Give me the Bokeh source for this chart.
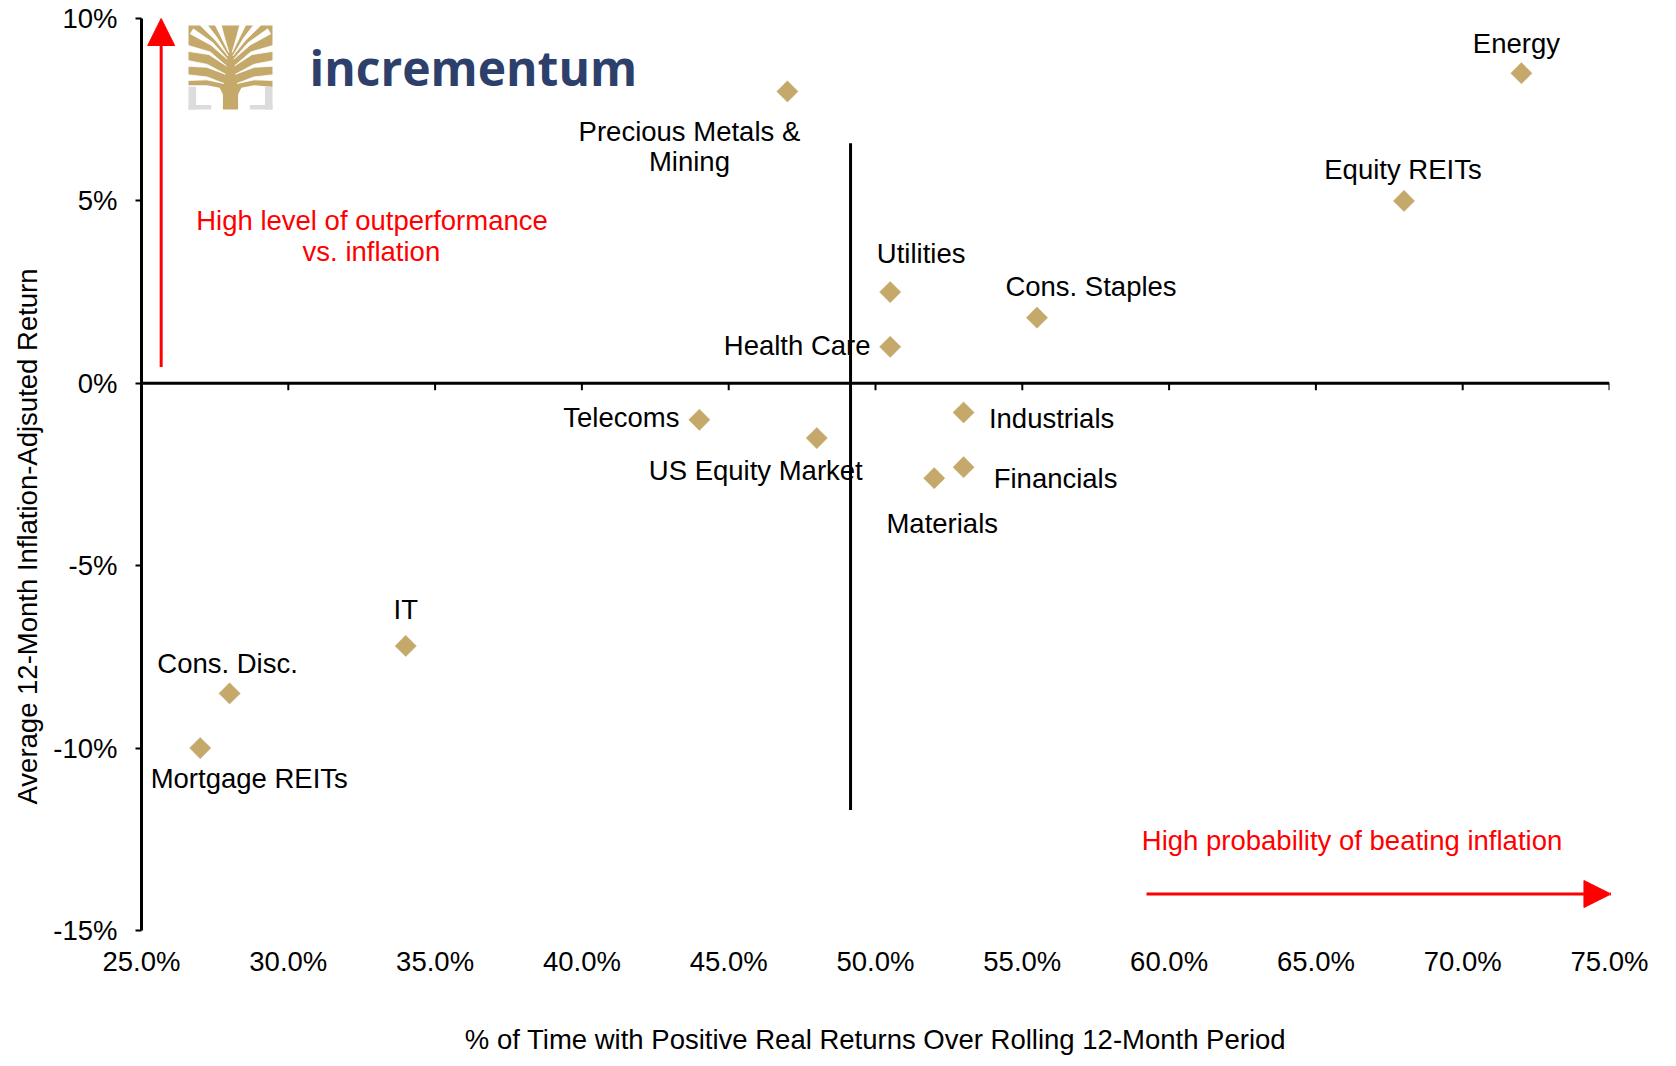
from math import pi, hypot
from bokeh.plotting import figure
from bokeh.models import (Span, Label, Arrow, NormalHead, FixedTicker, Title,
                          PrintfTickFormatter, ColumnDataSource)
from bokeh.core.properties import value
from bokeh.embed import file_html
from bokeh.resources import INLINE

# ---------------- data ----------------
sectors = ["Energy", "Equity REITs", "Precious Metals &\nMining", "Utilities",
           "Health Care", "Cons. Staples", "Industrials", "Financials",
           "Materials", "US Equity Market", "Telecoms", "IT", "Cons. Disc.",
           "Mortgage REITs"]
pct_positive = [72.0, 68.0, 47.0, 50.5, 50.5, 55.5, 53.0, 53.0, 52.0, 48.0,
                44.0, 34.0, 28.0, 27.0]
avg_real_return = [8.5, 5.0, 8.0, 2.5, 1.0, 1.8, -0.8, -2.3, -2.6, -1.5,
                   -1.0, -7.2, -8.5, -10.0]
x_ticks = [25, 30, 35, 40, 45, 50, 55, 60, 65, 70, 75]
y_ticks = [-15, -10, -5, 0, 5, 10]
x_title = "% of Time with Positive Real Returns Over Rolling 12-Month Period"
y_title = "Average 12-Month Inflation-Adjsuted Return"

# label placement (screen px offsets from each point)
label_dx = [-5, -1, -98, 31, -93, 54, 88, 92, 8, -61, -78, 0, -2, 49]
label_dy = [-30, -31, 55, -39, -1, -31, 6, 11, 45, 32, -2, -36, -30, 30]

FONT = "Liberation Sans"
FS = "27.5px"
GOLD = "#C4A96B"
NAVY = "#2D406B"

p = figure(width=1668, height=1062, x_range=(25, 75), y_range=(-15, 10),
           output_backend="svg", toolbar_location=None,
           min_border_left=141, min_border_right=59, min_border_top=18,
           min_border_bottom=132)
p.outline_line_color = None
p.xgrid.grid_line_color = None
p.ygrid.grid_line_color = None
p.background_fill_color = "white"
p.border_fill_color = "white"

# x axis: labels only at bottom
xa = p.xaxis[0]
xa.ticker = FixedTicker(ticks=x_ticks)
xa.formatter = PrintfTickFormatter(format="%.1f%%")
xa.axis_line_color = None
xa.major_tick_line_color = None
xa.minor_tick_line_color = None
xa.major_label_standoff = 9
xa.major_label_text_font = FONT
xa.major_label_text_font_size = FS
xa.major_label_text_color = "black"
xa.axis_label = x_title
xa.axis_label_text_font = FONT
xa.axis_label_text_font_size = FS
xa.axis_label_text_font_style = "normal"
xa.axis_label_text_color = "black"
xa.axis_label_standoff = 44

ya = p.yaxis[0]
ya.ticker = FixedTicker(ticks=y_ticks)
ya.formatter = PrintfTickFormatter(format="%d%%")
ya.axis_line_width = 3
ya.axis_line_color = "black"
ya.major_tick_line_width = 2
ya.major_tick_out = 6
ya.major_tick_in = 0
ya.minor_tick_line_color = None
ya.major_label_standoff = 18
ya.major_label_text_font = FONT
ya.major_label_text_font_size = FS
ya.major_label_text_color = "black"

# y axis title, anchored from the bottom like the reference
p.add_layout(Title(text=y_title, align="left", offset=126, standoff=16,
                   text_font=FONT, text_font_size=FS, text_font_style="normal",
                   text_color="black"), "left")

# horizontal axis line at 0 with tick marks
p.add_layout(Span(location=0, dimension="width", line_color="black", line_width=3))
p.segment(x0=x_ticks[1:], y0=[0] * (len(x_ticks) - 1), x1=x_ticks[1:],
          y1=[-0.19] * (len(x_ticks) - 1), line_color="black", line_width=2)

# vertical divider
p.segment(x0=[49.15], y0=[-11.7], x1=[49.15], y1=[6.58], line_color="black", line_width=3)

# points
src = ColumnDataSource(dict(x=pct_positive, y=avg_real_return, name=sectors,
                            dx=label_dx, dy=label_dy))
p.scatter("x", "y", source=src, marker="square", size=15, angle=pi / 4,
          fill_color=GOLD, line_color=GOLD, line_width=0.5)
p.text("x", "y", text="name", source=src, x_offset="dx", y_offset="dy",
       text_font=value(FONT), text_font_size=value(FS), text_color="black",
       text_align="center", text_baseline="middle", text_line_height=0.97)

# red arrows
p.add_layout(Arrow(end=NormalHead(size=27, fill_color="#FF0000", line_color="#FF0000"),
                   x_start=25.67, y_start=0.45, x_end=25.67, y_end=10.0,
                   line_color="#FF0000", line_width=3))
p.add_layout(Arrow(end=NormalHead(size=27, fill_color="#FF0000", line_color="#FF0000"),
                   x_start=59.23, y_start=-14.0, x_end=75.05, y_end=-14.0,
                   line_color="#FF0000", line_width=3))

for txt, x, y in [("High level of outperformance", 32.85, 4.46),
                  ("vs. inflation", 32.83, 3.62),
                  ("High probability of beating inflation", 66.23, -12.53)]:
    p.add_layout(Label(x=x, y=y, text=txt, text_color="#FF0000", text_font=FONT,
                       text_font_size=FS, text_align="center", text_baseline="middle"))

# ---------------- logo ----------------
def lx(u):
    return 25 + (188 + 84 * u - 141) / 29.36

def ly(v):
    return (382.8 - (109 - 84 * v)) / 36.48

GREY = "#DCDCDE"
for (u0, v0, u1, v1) in [(0, 0, 0.09, 0.27), (0, 0, 0.27, 0.055),
                         (0.91, 0, 1, 0.27), (0.73, 0, 1, 0.055)]:
    p.quad(left=[lx(u0)], right=[lx(u1)], bottom=[ly(v0)], top=[ly(v1)],
           fill_color=GREY, line_color=None)

crown = [(0.41, 0.0), (0.41, 0.18), (0.37, 0.26), (0.22, 0.29), (0.0, 0.29),
         (0.0, 1.0), (1.0, 1.0), (1.0, 0.27), (0.78, 0.29), (0.63, 0.26),
         (0.59, 0.18), (0.59, 0.0)]
p.patch([lx(u) for u, v in crown], [ly(v) for u, v in crown],
        fill_color=GOLD, line_color=None)

# white tapered gaps between branches (local logo units)
left_gaps = [
    [(0.42, 0.31), (0.22, 0.37), (-0.02, 0.38)],
    [(0.44, 0.42), (0.22, 0.52), (-0.02, 0.55)],
    [(0.45, 0.52), (0.25, 0.67), (-0.02, 0.73)],
    [(0.46, 0.60), (0.28, 0.78), (0.04, 0.93)],
    [(0.47, 0.64), (0.33, 0.84), (0.17, 1.02)],
    [(0.48, 0.68), (0.41, 0.86), (0.35, 1.02)],
]
gaps = left_gaps + [[(1 - u, v) for u, v in g] for g in left_gaps]
widths = [0.0, 0.035, 0.07]
gx, gy = [], []
for g in gaps:
    left_side, right_side = [], []
    for i, (u, v) in enumerate(g):
        a = g[min(i + 1, 2)]
        b = g[max(i - 1, 0)]
        du, dv = a[0] - b[0], a[1] - b[1]
        n = hypot(du, dv)
        nu, nv = -dv / n, du / n
        w = widths[i] / 2
        left_side.append((u + nu * w, v + nv * w))
        right_side.append((u - nu * w, v - nv * w))
    poly = left_side + right_side[::-1]
    gx.append([lx(u) for u, v in poly])
    gy.append([ly(v) for u, v in poly])
p.patches(gx, gy, fill_color="white", line_color="white", line_width=0.8)

p.add_layout(Label(x=25 + (309 - 141) / 29.36, y=(382.8 - 67) / 36.48,
                   text="incrementum", text_font="Open Sans", text_font_style="bold",
                   text_font_size="48px", text_color=NAVY, text_align="left",
                   text_baseline="alphabetic"))

open("out.html", "w").write(file_html(p, INLINE))
